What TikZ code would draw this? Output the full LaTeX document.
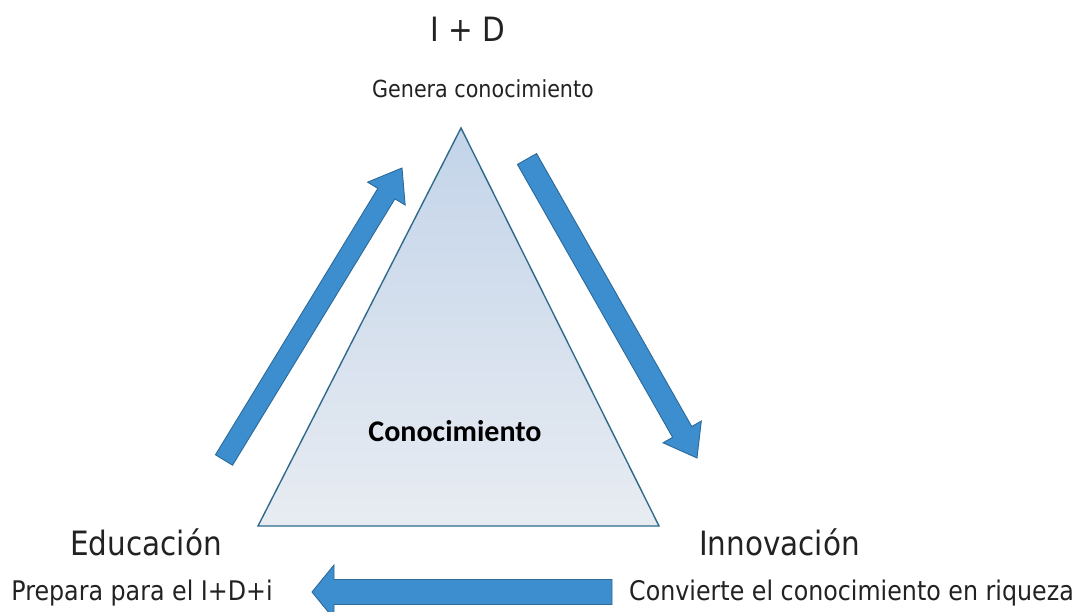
\documentclass[tikz,border=0pt]{standalone}
\usepackage{fontspec}
\setmainfont[FakeStretch=0.88]{DejaVu Sans}
\newfontfamily\corefont{Carlito}
\usetikzlibrary{calc}

\definecolor{arrowfill}{HTML}{3D8ECF}
\definecolor{arrowedge}{HTML}{2C6A99}
\definecolor{triedge}{HTML}{2F6A8C}
\definecolor{tritop}{HTML}{C3D4E9}
\definecolor{tribot}{HTML}{E8ECF2}
\definecolor{labtext}{HTML}{222222}

\tikzset{
  blockarr/.style={fill=arrowfill,draw=arrowedge,line width=0.9pt,line join=miter},
  title/.style={text=labtext,inner sep=0pt,anchor=base,font=\fontsize{33.5}{38}\selectfont},
  sublab/.style={text=labtext,inner sep=0pt,anchor=base,font=\fontsize{27}{31}\selectfont}
}

% block arrow: tail, tip, shaft half width, head half width, head length
\newcommand{\blockarrow}[5]{%
  \coordinate (hb) at ($(#2)!#5pt!(#1)$);
  \draw[blockarr] ($(#1)!#3pt!90:(#2)$) -- ($(hb)!#3pt!-90:(#1)$) -- ($(hb)!#4pt!-90:(#1)$)
    -- (#2) -- ($(hb)!#4pt!90:(#1)$) -- ($(hb)!#3pt!90:(#1)$) -- ($(#1)!#3pt!-90:(#2)$) -- cycle;
}

\begin{document}
\begin{tikzpicture}[x=1pt,y=-1pt]
 \useasboundingbox (0,0) rectangle (1074,612);

 % triangle
 \coordinate (apex) at (461,128);
 \coordinate (bl) at (258,526);
 \coordinate (br) at (659,526);
 \shadedraw[top color=tritop,bottom color=tribot,draw=triedge,line width=1.4pt] (apex) -- (bl) -- (br) -- cycle;

 \node (core) at (455,441) [inner sep=0pt,anchor=base,text=black,font=\corefont\bfseries\fontsize{30}{34}\selectfont] {Conocimiento};

 % labels
 \node (idtitle) at (467.5,42) [title] {I + D};
 \node (idsub) at (483,98) [sublab,font=\fontsize{23.5}{28}\selectfont] {Genera conocimiento};
 \node (edutitle) at (146,555) [title] {Educación};
 \node (edusub) at (142,600) [sublab] {Prepara para el I+D+i};
 \node (innotitle) at (779.5,555) [title] {Innovación};
 \node (innosub) at (851.5,600) [sublab] {Convierte el conocimiento en riqueza};

 % arrows
 \coordinate (eduend) at (224,460);
 \coordinate (idstart) at (402,168);
 \coordinate (idend) at (527,159);
 \coordinate (innostart) at (697,458);
 \coordinate (innoend) at (612,592);
 \coordinate (edustart) at (312,592);
 \blockarrow{eduend}{idstart}{10}{22}{30}
 \blockarrow{idend}{innostart}{11}{22}{30}
 \blockarrow{innoend}{edustart}{12.5}{27}{22}
\end{tikzpicture}
\end{document}
